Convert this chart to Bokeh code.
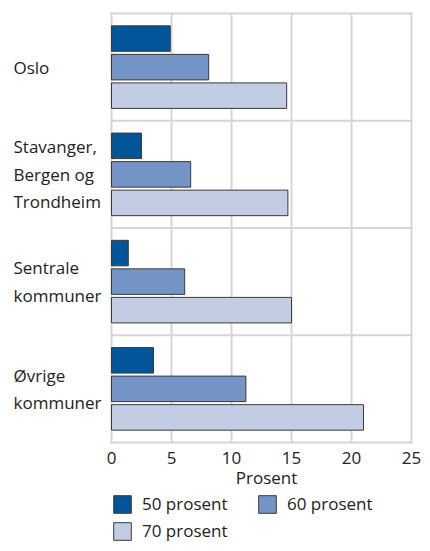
from bokeh.plotting import figure
from bokeh.models import Range1d, Legend, LegendItem, ColumnDataSource
from bokeh.core.properties import value
from bokeh.embed import file_html
from bokeh.resources import INLINE

categories = ["Oslo", "Stavanger,\nBergen og\nTrondheim", "Sentrale\nkommuner", "Øvrige\nkommuner"]
series = ["50 prosent", "60 prosent", "70 prosent"]
v50 = [4.9, 2.5, 1.4, 3.5]
v60 = [8.1, 6.6, 6.1, 11.2]
v70 = [14.6, 14.7, 15.0, 21.0]
x_ticks = [0, 5, 10, 15, 20, 25]
x_title = "Prosent"
colors = ["#03559a", "#7594c6", "#c2cde4"]

FONT = "Open Sans"
GRID = "#d6d6d6"
TXT = "#222222"
n = len(categories)
ypos = [n - 1 - i for i in range(n)]
offsets = [0.266, 0.0, -0.266]
values = [v50, v60, v70]

# canvas layout (px)
W, H = 422, 543
left0 = 111          # px of x = 0
data_w = 300         # px from 0 to 25
top0 = 13            # px of top band edge
band_h = 107.25
pxu = data_w / (x_ticks[-1] - x_ticks[0])


def y_at(px):
    return (n - 0.5) + (top0 - px) / band_h


x_start = x_ticks[0] - left0 / pxu
x_end = x_ticks[0] + (W - left0) / pxu

p = figure(width=W, height=H, frame_width=W, frame_height=H,
           x_range=Range1d(x_start, x_end), y_range=Range1d(y_at(H), y_at(0)),
           output_backend="svg", toolbar_location=None,
           min_border=0, background_fill_color="white", border_fill_color="white")
p.outline_line_color = None
p.grid.visible = False
p.axis.visible = False

# grid lines over the data area
bounds = [k - 0.5 for k in range(n + 1)]
p.segment(x0=[x_ticks[0]] * len(bounds), x1=[x_ticks[-1]] * len(bounds), y0=bounds, y1=bounds,
          line_color=GRID, line_width=2, line_cap="square")
p.segment(x0=x_ticks, x1=x_ticks, y0=[bounds[0]] * len(x_ticks), y1=[bounds[-1]] * len(x_ticks),
          line_color=GRID, line_width=2, line_cap="square")

renderers = []
for s, vals, off, col in zip(series, values, offsets, colors):
    src = ColumnDataSource(dict(y=[y + off for y in ypos], right=vals))
    r = p.hbar(y="y", right="right", left=0, height=0.238, source=src,
               fill_color=col, line_color="#3a3a3a", line_width=1)
    renderers.append((s, r))

# category labels
p.text(x=[x_start] * n, y=ypos, text=categories, x_offset=13,
       text_align="left", text_baseline="middle",
       text_font=value(FONT), text_font_size="17px", text_color=TXT, text_line_height=1.2)

# x tick labels and axis title
p.text(x=x_ticks, y=[y_at(457)] * len(x_ticks), text=[str(t) for t in x_ticks],
       text_align="center", text_baseline="middle",
       text_font=value(FONT), text_font_size="17px", text_color=TXT)
p.text(x=[(x_ticks[0] + x_ticks[-1]) / 2], y=[y_at(477)], text=[x_title], x_offset=5,
       text_align="center", text_baseline="middle",
       text_font=value(FONT), text_font_size="17px", text_color=TXT)

items = [LegendItem(label=s, renderers=[r]) for s, r in renderers]
for row, bottom in ((items[:2], 28), (items[2:], 1)):
    lg = Legend(items=row, orientation="horizontal", location=(left0, bottom),
                glyph_width=22, glyph_height=22, label_standoff=9, label_width=109,
                label_height=22, spacing=5, padding=0, margin=0,
                label_text_font=FONT, label_text_font_size="17px", label_text_color=TXT,
                border_line_color=None, background_fill_alpha=0)
    p.add_layout(lg, "center")

open("out.html", "w").write(file_html(p, INLINE))
